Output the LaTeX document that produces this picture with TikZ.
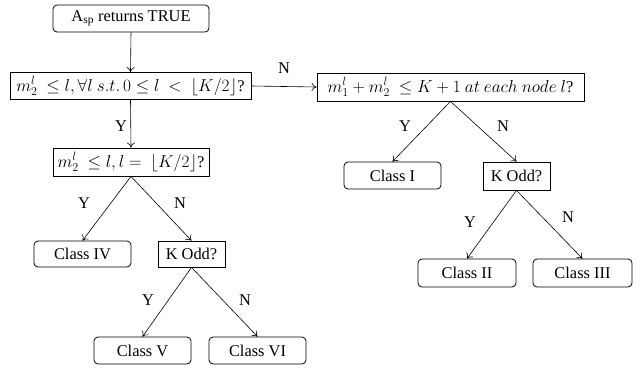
\documentclass[tikz,border=0pt]{standalone}
\usepackage{fontspec}
\setmainfont{Liberation Serif}
\usetikzlibrary{arrows.meta}
\begin{document}
\begin{tikzpicture}[x=1pt,y=-1pt,
 box/.style={draw, line width=0.8pt, inner sep=0pt, font=\fontsize{16.4}{19}\selectfont},
 rbox/.style={box, rounded corners=4pt},
 arr/.style={-{To[length=5pt,width=8pt]}, line width=0.6pt},
 lab/.style={font=\fontsize{16.4}{19}\selectfont, inner sep=0pt}]
\useasboundingbox (0,0) rectangle (641,368);
\node[rbox, minimum width=156pt, minimum height=27pt] (start) at (131,18.5) {A\textsubscript{sp} returns TRUE};
\node[box, minimum width=241pt, minimum height=27pt] (q1) at (130.5,86) {$m_2^l\ \le l, \forall l\ s.t.\, 0 \le l\ <\ \lfloor K/2\rfloor$?};
\node[box, minimum width=267pt, minimum height=28pt] (q2) at (450.5,87) {$m_1^l + m_2^l\ \le K+1\ at\ each\ node\ l$?};
\node[box, minimum width=156pt, minimum height=28pt] (q3) at (131,162) {$m_2^l\ \le l, l =\ \lfloor K/2\rfloor$?};
\node[rbox, minimum width=97pt, minimum height=26pt] (c4) at (82.5,254) {Class IV};
\node[box, minimum width=67pt, minimum height=26pt] (k1) at (191.5,254) {K Odd?};
\node[rbox, minimum width=97pt, minimum height=27pt] (c5) at (142.5,350.5) {Class V};
\node[rbox, minimum width=97pt, minimum height=27pt] (c6) at (257.5,350.5) {Class VI};
\node[rbox, minimum width=97pt, minimum height=27pt] (c1) at (392.5,175.5) {Class I};
\node[box, minimum width=67pt, minimum height=28pt] (k2) at (516.5,176) {K Odd?};
\node[rbox, minimum width=98pt, minimum height=28pt] (c2) at (467,273) {Class II};
\node[rbox, minimum width=99pt, minimum height=28pt] (c3) at (582.5,273) {Class III};

\draw[arr] (start.south) -- (q1.north);
\draw[arr] (q1.east) -- (q2.west);
\draw[arr] (q1.south) -- (q3.north);
\draw[arr] (q3.south) -- (c4.north);
\draw[arr] (q3.south) -- (k1.north);
\draw[arr] (k1.south) -- (c5.north);
\draw[arr] (k1.south) -- (c6.north);
\draw[arr] (q2.south) -- (c1.north);
\draw[arr] (q2.south) -- (k2.north);
\draw[arr] (k2.south) -- (c2.north);
\draw[arr] (k2.south) -- (c3.north);

\node[lab] (lN1) at (284,68) {N};
\node[lab] (lY1) at (121,126) {Y};
\node[lab] (lY2) at (84,203) {Y};
\node[lab] (lN2) at (180,203) {N};
\node[lab] (lY3) at (148,300) {Y};
\node[lab] (lN3) at (245,300) {N};
\node[lab] (lY4) at (405,126) {Y};
\node[lab] (lN4) at (503,126) {N};
\node[lab] (lY5) at (470,222) {Y};
\node[lab] (lN5) at (568,217) {N};
\end{tikzpicture}
\end{document}
